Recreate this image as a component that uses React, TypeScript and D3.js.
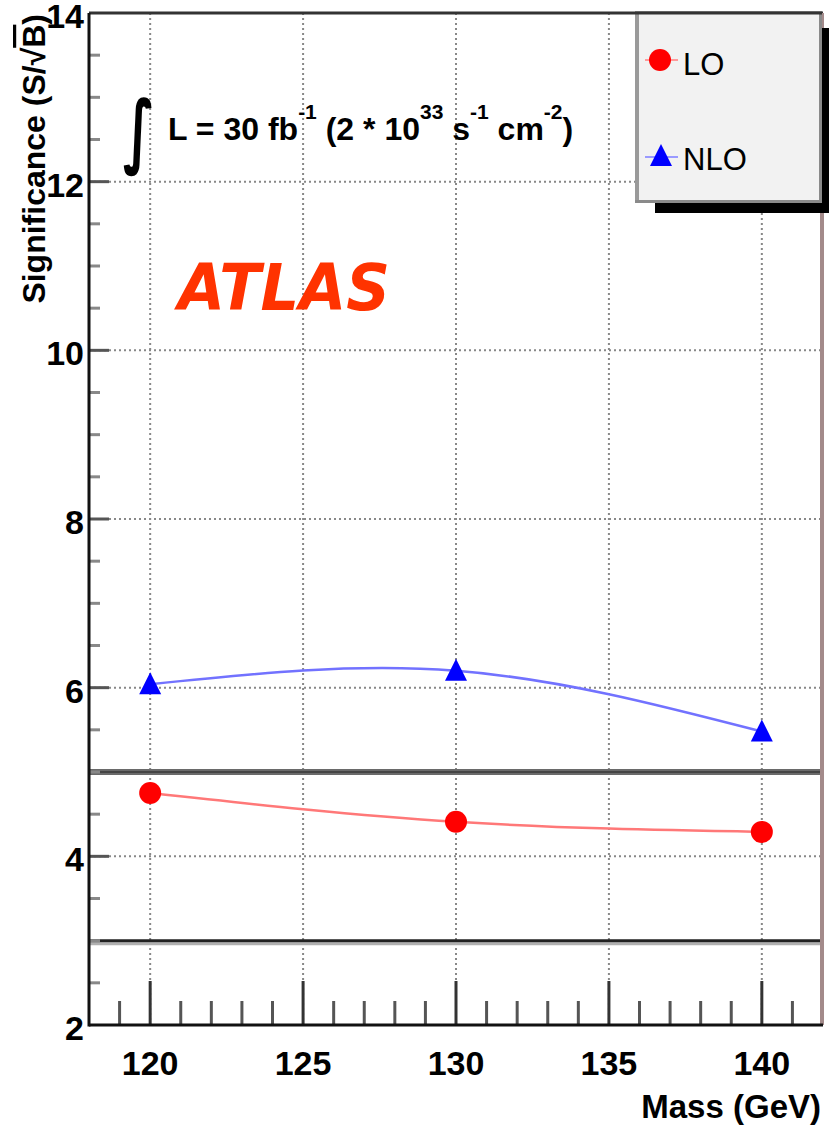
import React from 'react';
import * as d3 from 'd3';

const masses = [120, 130, 140];
const loValues = [4.75, 4.41, 4.29];
const nloValues = [6.04, 6.2, 5.48];
const xTickLabels = [120, 125, 130, 135, 140];
const yTickLabels = [2, 4, 6, 8, 10, 12, 14];
const yGridValues = [4, 6, 8, 10, 12];
const refLevels = [5, 3];
const seriesNames = ['LO', 'NLO'];

const W = 829;
const H = 1127;
const FONT = "'Liberation Sans', Arial, Helvetica, sans-serif";

export default function App() {
  const x = d3.scaleLinear().domain([118, 142]).range([89, 823]);
  const y = d3.scaleLinear().domain([2, 14]).range([1025, 13]);
  const line = d3
    .line<number>()
    .x((_, i) => x(masses[i]))
    .y((d) => y(d))
    .curve(d3.curveNatural);
  const xMinor = d3.range(119, 142, 1).filter((v) => v % 5 !== 0);
  const yMinor = d3.range(2.5, 14, 0.5).filter((v) => v % 2 !== 0);
  const [x0, x1] = x.range();
  const [yb, yt] = y.range();
  const triPath = 'M0,-12 L11,10 L-11,10 Z';

  return (
    <svg width={W} height={H} style={{ position: 'absolute', left: 0, top: 0, background: '#fff' }}>
      {/* grid */}
      {xTickLabels.map((v) => (
        <line key={'gx' + v} x1={x(v)} x2={x(v)} y1={yb} y2={yt} stroke="#888" strokeWidth={2} strokeDasharray="2,3" />
      ))}
      {yGridValues.map((v) => (
        <line key={'gy' + v} x1={x0} x2={x1} y1={y(v)} y2={y(v)} stroke="#888" strokeWidth={2} strokeDasharray="2,3" />
      ))}
      {/* reference lines */}
      <line x1={x0} x2={x1} y1={y(refLevels[0])} y2={y(refLevels[0])} stroke="#6a6a6a" strokeWidth={6} />
      <line x1={x0} x2={x1} y1={y(refLevels[0])} y2={y(refLevels[0])} stroke="#444" strokeWidth={2} />
      <line x1={x0} x2={x1} y1={y(refLevels[1]) + 3} y2={y(refLevels[1]) + 3} stroke="#b0b0b0" strokeWidth={3} />
      <line x1={x0} x2={x1} y1={y(refLevels[1])} y2={y(refLevels[1])} stroke="#222" strokeWidth={3} />

      {/* curves */}
      <path d={line(loValues) || ''} fill="none" stroke="#ff7878" strokeWidth={2.5} />
      <path d={line(nloValues) || ''} fill="none" stroke="#7272ff" strokeWidth={2.5} />
      {/* markers */}
      {loValues.map((v, i) => (
        <circle key={'lo' + i} cx={x(masses[i])} cy={y(v)} r={11} fill="#ff0000" />
      ))}
      {nloValues.map((v, i) => (
        <path key={'nlo' + i} d={triPath} transform={`translate(${x(masses[i])},${y(v)})`} fill="#0000ff" />
      ))}

      {/* x ticks */}
      {xMinor.map((v) => (
        <line key={'xm' + v} x1={x(v)} x2={x(v)} y1={yb} y2={yb - 24} stroke="#555" strokeWidth={3} />
      ))}
      {xTickLabels.map((v) => (
        <line key={'xM' + v} x1={x(v)} x2={x(v)} y1={yb} y2={yb - 44} stroke="#333" strokeWidth={3} />
      ))}
      {/* y ticks */}
      {yMinor.map((v) => (
        <line key={'ym' + v} x1={x0} x2={x0 + 11} y1={y(v)} y2={y(v)} stroke="#888" strokeWidth={3} />
      ))}
      {yGridValues.map((v) => (
        <line key={'yM' + v} x1={x0} x2={x0 + 20} y1={y(v)} y2={y(v)} stroke="#555" strokeWidth={3} />
      ))}

      {/* frame */}
      <line x1={x0} x2={x1} y1={yt} y2={yt} stroke="#333" strokeWidth={3} />
      <line x1={x1 - 1} x2={x1 - 1} y1={yt} y2={yb} stroke="#a38a8a" strokeWidth={4} />
      <line x1={x0} x2={x1} y1={yb} y2={yb} stroke="#111" strokeWidth={3} />
      <line x1={x0} x2={x0} y1={yt} y2={yb + 1.5} stroke="#111" strokeWidth={3} />

      {/* tick labels */}
      {xTickLabels.map((v) => (
        <text key={'xl' + v} x={x(v)} y={1075} textAnchor="middle" fontFamily={FONT} fontWeight="bold" fontSize={34}>
          {v}
        </text>
      ))}
      {yTickLabels.map((v) => (
        <text key={'yl' + v} x={84} y={y(v) + 15} textAnchor="end" fontFamily={FONT} fontWeight="bold" fontSize={34}>
          {v}
        </text>
      ))}

      {/* axis titles */}
      <text x={821} y={1118} textAnchor="end" fontFamily={FONT} fontWeight="bold" fontSize={33}>
        Mass (GeV)
      </text>
      <text
        transform="translate(45,14) rotate(-90)"
        textAnchor="end"
        fontFamily={FONT}
        fontWeight="bold"
        fontSize={32}
      >
        Significance (S/√<tspan style={{ textDecoration: 'overline' }}>B</tspan>)
      </text>

      {/* luminosity */}
      <text
        transform="translate(123,158) scale(1,1.55)"
        fontFamily="'DejaVu Sans', sans-serif"
        fontWeight="bold"
        fontSize={52}
      >
        ∫
      </text>
      <text x={168} y={140} fontFamily={FONT} fontWeight="bold" fontSize={32}>
        L = 30 fb
        <tspan fontSize={21} dy={-21}>-1</tspan>
        <tspan dy={21}> (2 * 10</tspan>
        <tspan fontSize={21} dy={-21}>33</tspan>
        <tspan dy={21}> s</tspan>
        <tspan fontSize={21} dy={-21}>-1</tspan>
        <tspan dy={21}> cm</tspan>
        <tspan fontSize={21} dy={-21}>-2</tspan>
        <tspan dy={21}>)</tspan>
      </text>

      {/* ATLAS */}
      <text
        x={178}
        y={310}
        fontFamily="'DejaVu Sans', sans-serif"
        fontWeight="bold"
        fontStyle="italic"
        fontSize={64}
        fill="#ff3300"
        textLength={212}
        lengthAdjust="spacingAndGlyphs"
      >
        ATLAS
      </text>

      {/* legend */}
      <rect x={655} y={203} width={174} height={10} fill="#000" />
      <rect x={821} y={28} width={8} height={185} fill="#000" />
      <rect x={635} y={13} width={187} height={190} fill="#f2f2f2" />
      <line x1={637} x2={637} y1={13} y2={203} stroke="#9a9a9a" strokeWidth={4} />
      <line x1={635} x2={822} y1={201.5} y2={201.5} stroke="#8a8a8a" strokeWidth={3} />
      <line x1={820.5} x2={820.5} y1={13} y2={203} stroke="#8a8a8a" strokeWidth={3} />
      <line x1={635} x2={822} y1={yt} y2={yt} stroke="#333" strokeWidth={3} />
      <line x1={645} x2={678} y1={60} y2={60} stroke="#ff9a9a" strokeWidth={2} />
      <circle cx={660} cy={60} r={11} fill="#ff0000" />
      <text x={683} y={75} fontFamily={FONT} fontSize={31}>
        {seriesNames[0]}
      </text>
      <line x1={645} x2={678} y1={157} y2={157} stroke="#9a9aff" strokeWidth={2} />
      <path d={triPath} transform="translate(661,156)" fill="#0000ff" />
      <text x={683} y={170} fontFamily={FONT} fontSize={31}>
        {seriesNames[1]}
      </text>
    </svg>
  );
}
